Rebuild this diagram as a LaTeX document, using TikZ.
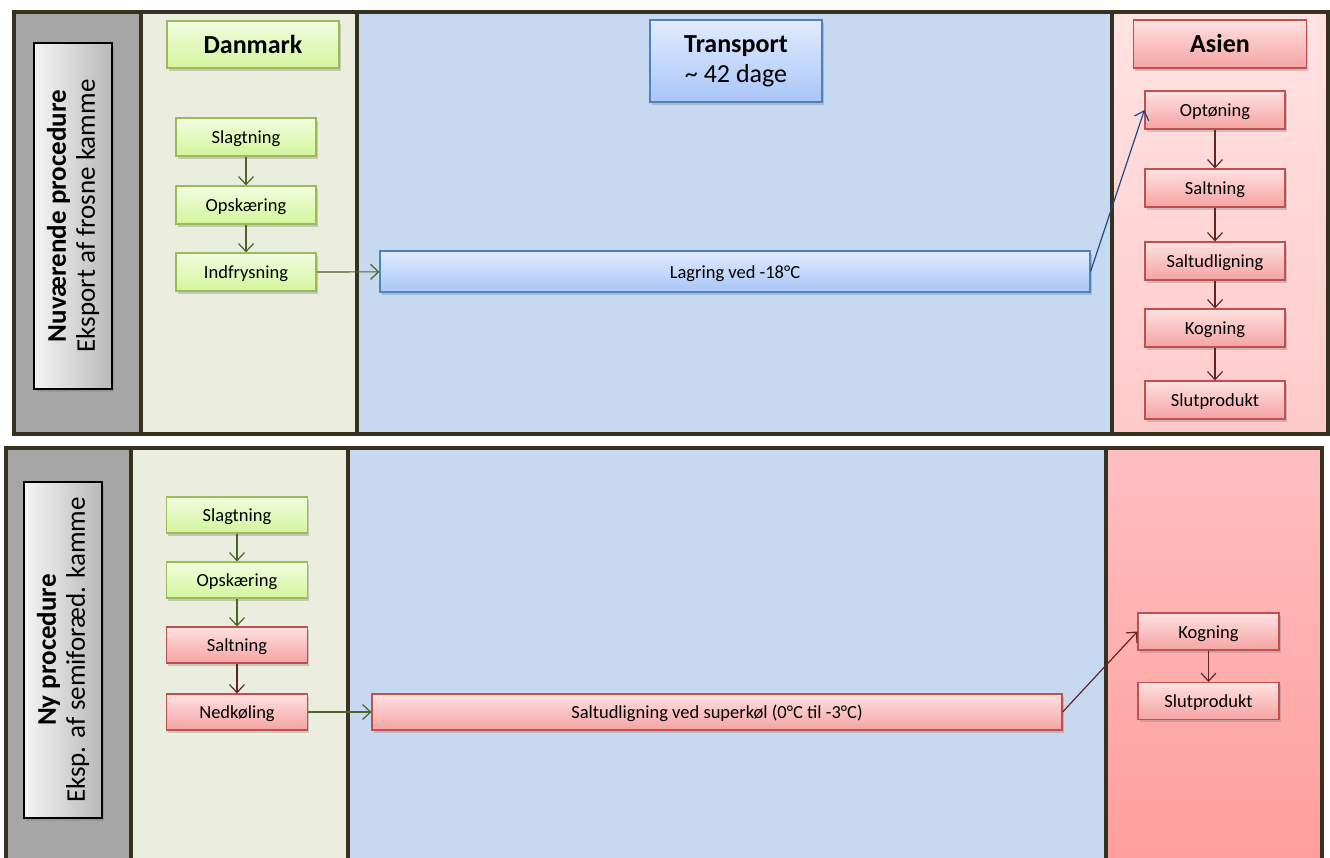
\documentclass[tikz,border=0pt]{standalone}
\usepackage{fontspec}
\setmainfont{Carlito}
\usetikzlibrary{arrows.meta,shadows}
\definecolor{frameC}{HTML}{37321F}
\definecolor{grayC}{HTML}{A6A6A6}
\definecolor{dkC}{HTML}{EBEEDF}
\definecolor{trC}{HTML}{C6D9F0}
\definecolor{grnTop}{HTML}{F2FDDF}
\definecolor{grnBot}{HTML}{D3F59C}
\definecolor{grnBd}{HTML}{9BBB59}
\definecolor{redTop}{HTML}{FFE1E1}
\definecolor{redBot}{HTML}{F5A3A3}
\definecolor{redBd}{HTML}{C0504D}
\definecolor{bluTop}{HTML}{E2EBFE}
\definecolor{bluBot}{HTML}{A8C6F8}
\definecolor{bluBd}{HTML}{4F81BD}
\definecolor{grnArr}{HTML}{4F6228}
\definecolor{redArr}{HTML}{632523}
\definecolor{bluArr}{HTML}{1F497D}
\tikzset{
  box/.style={draw, line width=1.2pt, inner sep=0pt, align=center, font=\fontsize{18.5}{22}\selectfont,
    drop shadow={opacity=0.35, shadow xshift=1.5pt, shadow yshift=-2.5pt}},
  one line/.style={text height=13pt, text depth=0pt},
  gbox/.style={box, draw=grnBd, top color=grnTop, bottom color=grnBot},
  rbox/.style={box, draw=redBd, top color=redTop, bottom color=redBot},
  bbox/.style={box, draw=bluBd, top color=bluTop, bottom color=bluBot},
  step box/.style={one line, minimum width=140pt, minimum height=38pt},
  hdr/.style={font=\fontsize{26}{30}\selectfont},
  hdr one/.style={hdr, text height=17pt, text depth=0pt},
  labelbox/.style={draw=black, line width=1.5pt, inner sep=0pt, left color=gray!8, right color=gray!55,
    drop shadow={opacity=0.35, shadow xshift=1.5pt, shadow yshift=-2.5pt}},
  labeltext/.style={rotate=90, align=center, font=\fontsize{27}{29}\selectfont, inner sep=0pt},
  frame/.style={draw=frameC, line width=4pt},
  garr/.style={draw=grnArr, line width=1.2pt, -{Straight Barb[length=8pt,width=15pt]}},
  rarr/.style={draw=redArr, line width=1.2pt, -{Straight Barb[length=8pt,width=15pt]}},
  barr/.style={draw=bluArr, line width=1.2pt, -{Straight Barb[length=8pt,width=15pt]}},
}
\begin{document}
\begin{tikzpicture}[x=1pt,y=-1pt]
\useasboundingbox[fill=white] (0,0) rectangle (1330,857);
% ---------- top panel backgrounds ----------
\fill[grayC] (14,12) rectangle (141,434);
\fill[dkC] (141,12) rectangle (357,434);
\fill[trC] (357,12) rectangle (1112,434);
\shade[top color=red!11, bottom color=red!21] (1112,12) rectangle (1328,434);
\draw[frame] (14,12) rectangle (1328,434);
\draw[frame] (141,12) -- (141,434);
\draw[frame] (357,12) -- (357,434);
\draw[frame] (1112,12) -- (1112,434);
% ---------- bottom panel backgrounds ----------
\fill[grayC] (6,448) rectangle (131,870);
\fill[dkC] (131,448) rectangle (348,870);
\fill[trC] (348,448) rectangle (1106,870);
\shade[top color=red!25, bottom color=red!38] (1106,448) rectangle (1322,857);
\draw[frame] (6,870) -- (6,448) -- (1322,448) -- (1322,870);
\draw[frame] (131,448) -- (131,870);
\draw[frame] (348,448) -- (348,870);
\draw[frame] (1106,448) -- (1106,870);
% ---------- top panel nodes ----------
\node[labelbox, minimum width=78pt, minimum height=346pt] (lab1) at (73,216) {};
\node[labeltext] (lab1t) at (lab1.center) {\textbf{Nuværende procedure}\\Eksport af frosne kamme};
\node[gbox, hdr one, minimum width=172pt, minimum height=47pt] (dk1) at (253,44.5) {\textbf{Danmark}};
\node[gbox, step box] (s1) at (246,137) {Slagtning};
\node[gbox, step box] (o1) at (246,205) {Opskæring};
\node[gbox, step box] (i1) at (246,272) {Indfrysning};
\node[bbox, hdr, minimum width=172pt, minimum height=82pt] (tr1) at (736,61) {\textbf{Transport}\\\textasciitilde{} 42 dage};
\node[bbox, one line, minimum width=710pt, minimum height=41pt] (lag) at (735,271.5) {Lagring ved -18°C};
\node[rbox, hdr one, minimum width=173pt, minimum height=48pt] (as1) at (1220,44) {\textbf{Asien}};
\node[rbox, step box] (op) at (1215,110) {Optøning};
\node[rbox, step box] (sa1) at (1215,188) {Saltning};
\node[rbox, step box] (su1) at (1215,261) {Saltudligning};
\node[rbox, step box] (ko1) at (1215,328) {Kogning};
\node[rbox, step box] (sl1) at (1215,400) {Slutprodukt};
\draw[garr] (s1) -- (o1);
\draw[garr] (o1) -- (i1);
\draw[garr] (i1) -- (lag);
\draw[barr] (lag.east) -- (op.west);
\draw[rarr] (op) -- (sa1);
\draw[rarr] (sa1) -- (su1);
\draw[rarr] (su1) -- (ko1);
\draw[rarr] (ko1) -- (sl1);
% ---------- bottom panel nodes ----------
\node[labelbox, minimum width=78pt, minimum height=336pt] (lab2) at (63,650) {};
\node[labeltext] (lab2t) at (lab2.center) {\textbf{Ny procedure}\\Eksp. af semiforæd. kamme};
\node[gbox, one line, minimum width=141pt, minimum height=36pt] (s2) at (237,515) {Slagtning};
\node[gbox, one line, minimum width=141pt, minimum height=36pt] (o2) at (237,580) {Opskæring};
\node[rbox, one line, minimum width=141pt, minimum height=36pt] (sa2) at (237,645) {Saltning};
\node[rbox, one line, minimum width=141pt, minimum height=36pt] (ne2) at (237,712) {Nedkøling};
\node[rbox, one line, minimum width=690pt, minimum height=36pt] (su2) at (717,712) {Saltudligning ved superkøl (0°C til -3°C)};
\node[rbox, one line, minimum width=141pt, minimum height=37pt] (ko2) at (1208.5,631.5) {Kogning};
\node[rbox, one line, minimum width=141pt, minimum height=37pt] (sl2) at (1208.5,701) {Slutprodukt};
\draw[garr] (s2) -- (o2);
\draw[garr] (o2) -- (sa2);
\draw[rarr] (sa2) -- (ne2);
\draw[garr] (ne2) -- (su2);
\draw[rarr] (su2.east) -- (ko2.west);
\draw[rarr] (ko2) -- (sl2);
\end{tikzpicture}
\end{document}
